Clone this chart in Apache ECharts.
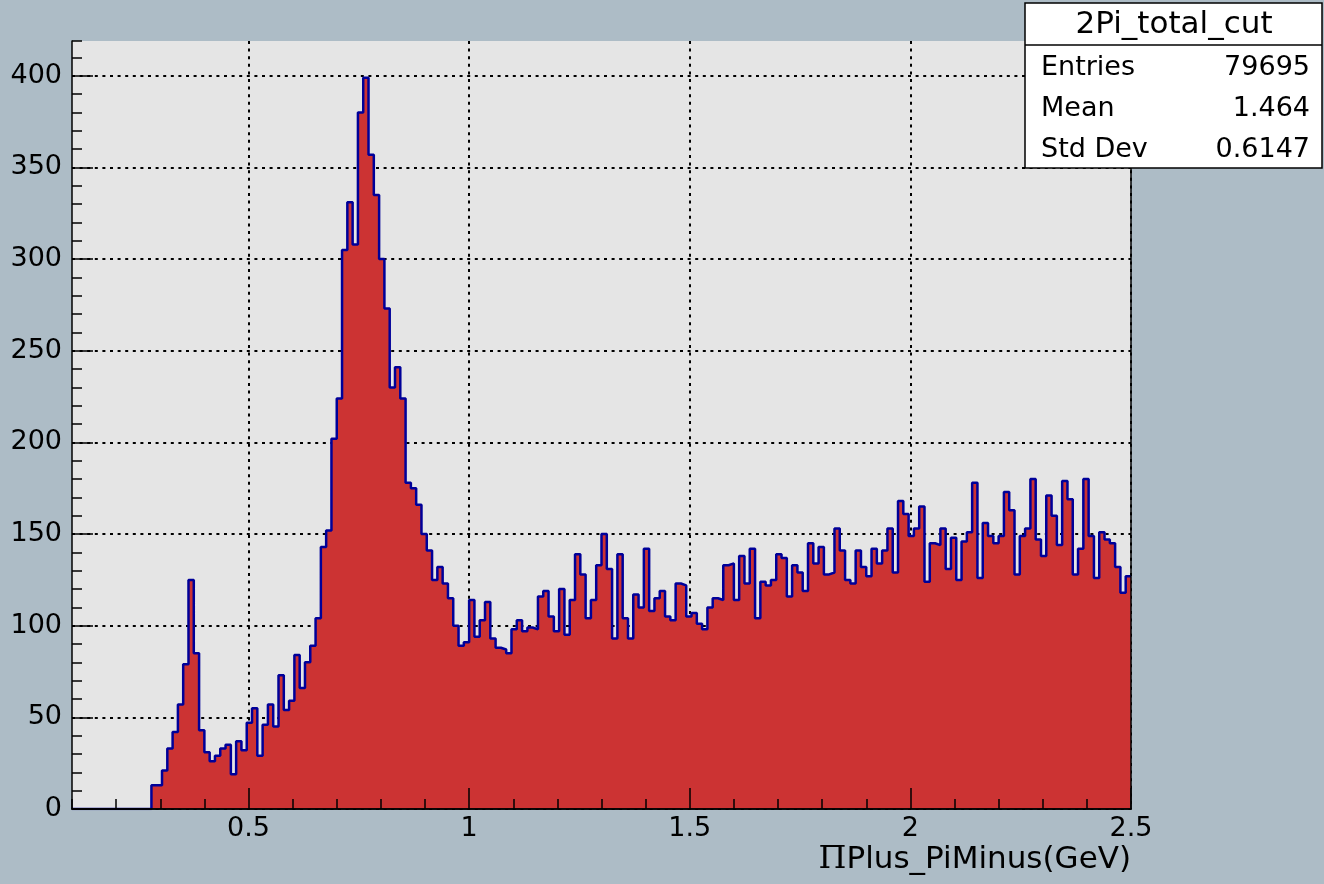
<!DOCTYPE html>
<html>
<head>
<meta charset="utf-8">
<title>2Pi_total_cut</title>
<script src="https://cdn.jsdelivr.net/npm/echarts@6/dist/echarts.min.js"></script>
<style>
  html, body { margin: 0; padding: 0; background: #adbcc6; }
  #chart { width: 1324px; height: 884px; }
</style>
</head>
<body>
<div id="chart"></div>
<script>
// histogram binning (200 bins from 0.1 to 2.5)
const xMin = 0.1
const xMax = 2.5
const binWidth = 0.012
const yMax = 419

// bin contents, left to right
const counts = [
  0, 0, 0, 0, 0, 0, 0, 0, 0, 0, 0, 0, 0, 0, 0,
  13, 13, 21, 33, 42, 57, 79, 125, 85, 43, 31, 26, 29, 33, 35,
  19, 37, 32, 47, 55, 29, 46, 57, 45, 73, 54, 59, 84, 66, 80,
  89, 104, 143, 152, 202, 224,
  305, 331, 308, 380, 399, 357, 335, 300, 273, 230, 241, 224,
  178, 175, 166, 150, 141, 125, 132, 123, 115, 100, 89, 91, 114, 94,
  103, 113, 93, 88, 87, 85, 98, 103, 97, 99, 98, 116, 119, 105, 97, 120, 95, 114, 139, 128, 104,
  114, 133, 150, 131, 93, 139, 104, 93, 117, 110, 142, 108, 115, 119, 105, 103, 123, 122, 105, 107, 101, 98, 110,
  115, 114, 133, 134, 114, 138, 123, 142, 104, 124, 122, 125, 139, 137, 116, 133, 129, 119, 145, 134, 143,
  128, 129, 153, 141, 125, 123, 141, 132, 127, 142, 134, 141, 153, 129, 168, 161, 149, 153, 165, 124,
  145, 144, 153, 131, 148, 125, 146, 151, 178, 126, 156, 149, 145, 149, 173, 163, 128, 149, 153,
  180, 147, 138, 171, 160, 144, 179, 169, 128, 142, 180, 149, 126, 151, 147, 145, 132, 118, 127
]

// tick labels
const xTicks = [0.5, 1, 1.5, 2, 2.5]
const yTicks = [0, 50, 100, 150, 200, 250, 300, 350, 400]

// stats box
const statsTitle = '2Pi_total_cut'
const statsRows = [
  ['Entries', '79695'],
  ['Mean', '1.464'],
  ['Std Dev', '0.6147']
]

const font = 'DejaVu Sans'

// step line: one point at each bin's low edge, plus the upper edge
const stepData = counts.map((c, i) => [xMin + i * binWidth, c])
stepData.push([xMax, counts[counts.length - 1]])

const statsGraphic = [
  {
    type: 'rect',
    shape: { x: 1025, y: 3, width: 297, height: 165 },
    style: { fill: '#ffffff', stroke: '#000000', lineWidth: 1.5 },
    z: 10
  },
  {
    type: 'line',
    shape: { x1: 1025, y1: 45, x2: 1322, y2: 45 },
    style: { stroke: '#000000', lineWidth: 1.5 },
    z: 11
  },
  {
    type: 'text',
    x: 1174, y: 25,
    style: { text: statsTitle, font: '31px "' + font + '"', fill: '#000', align: 'center', verticalAlign: 'middle' },
    z: 11
  }
]
statsRows.forEach((row, i) => {
  const y = 68 + i * 41
  statsGraphic.push({
    type: 'text', x: 1041, y: y,
    style: { text: row[0], font: '27px "' + font + '"', fill: '#000', align: 'left', verticalAlign: 'middle' },
    z: 11
  })
  statsGraphic.push({
    type: 'text', x: 1310, y: y,
    style: { text: row[1], font: '27px "' + font + '"', fill: '#000', align: 'right', verticalAlign: 'middle' },
    z: 11
  })
})

const chart = echarts.init(document.getElementById('chart'))

const hidden = { show: false }
const option = {
  backgroundColor: '#adbcc6',
  animation: false,
  grid: {
    left: 72, right: 193, top: 41, bottom: 75,
    show: true, backgroundColor: '#e5e5e5', borderWidth: 0
  },
  xAxis: [
    // dotted grid lines (under the histogram)
    {
      type: 'value', min: xMin, max: xMax, interval: 0.1, position: 'bottom', z: 0,
      axisLine: hidden, axisLabel: hidden,
      axisTick: { show: false, customValues: xTicks },
      splitLine: { show: true, lineStyle: { color: '#000', width: 2, type: [3, 4.6] } }
    },
    // axis line, major ticks and labels
    {
      type: 'value', min: xMin, max: xMax, interval: 0.1, position: 'bottom', z: 3,
      axisLine: { show: true, onZero: false, lineStyle: { color: '#000', width: 1.5 } },
      axisTick: { show: true, inside: true, length: 21, customValues: xTicks, lineStyle: { color: '#000', width: 1.5 } },
      axisLabel: { show: true, customValues: xTicks, margin: 6, color: '#000', fontFamily: font, fontSize: 27 },
      splitLine: hidden,
      name: '{pi|\u03A0}Plus_PiMinus(GeV)',
      nameLocation: 'end',
      nameGap: 0,
      nameTextStyle: {
        align: 'right', verticalAlign: 'top', padding: [35, 0, 0, 0],
        color: '#000', fontFamily: font, fontSize: 31,
        rich: { pi: { fontFamily: 'DejaVu Serif', fontSize: 32, color: '#000' } }
      }
    },
    // minor ticks
    {
      type: 'value', min: xMin, max: xMax, interval: 0.1, position: 'bottom', z: 3,
      axisLine: hidden, axisLabel: hidden, splitLine: hidden,
      axisTick: { show: true, inside: true, length: 10, lineStyle: { color: '#000', width: 1.5 } }
    },
    // top frame
    {
      type: 'value', min: xMin, max: xMax, position: 'top', z: 3,
      axisLine: { show: true, lineStyle: { color: '#000', width: 1.5 } },
      axisTick: hidden, axisLabel: hidden, splitLine: hidden
    }
  ],
  yAxis: [
    {
      type: 'value', min: 0, max: yMax, interval: 50, position: 'left', z: 0,
      axisLine: hidden, axisLabel: hidden,
      axisTick: { show: false, customValues: yTicks },
      splitLine: { show: true, lineStyle: { color: '#000', width: 2, type: [3, 4.6] } }
    },
    {
      type: 'value', min: 0, max: yMax, interval: 50, position: 'left', z: 3,
      axisLine: { show: true, lineStyle: { color: '#000', width: 1.5 } },
      axisTick: { show: true, inside: true, length: 21, customValues: yTicks, lineStyle: { color: '#000', width: 1.5 } },
      axisLabel: { show: true, customValues: yTicks, margin: 10, color: '#000', fontFamily: font, fontSize: 27 },
      splitLine: hidden
    },
    {
      type: 'value', min: 0, max: yMax, interval: 10, position: 'left', z: 3,
      axisLine: hidden, axisLabel: hidden, splitLine: hidden,
      axisTick: { show: true, inside: true, length: 10, lineStyle: { color: '#000', width: 1.5 } }
    },
    {
      type: 'value', min: 0, max: yMax, position: 'right', z: 3,
      axisLine: { show: true, lineStyle: { color: '#000', width: 1.5 } },
      axisTick: hidden, axisLabel: hidden, splitLine: hidden
    }
  ],
  series: [
    {
      type: 'line',
      xAxisIndex: 0,
      yAxisIndex: 0,
      step: 'end',
      data: stepData,
      symbol: 'none',
      z: 2,
      lineStyle: { color: '#000099', width: 2.5 },
      areaStyle: { color: '#cc3333', opacity: 1 }
    }
  ],
  graphic: statsGraphic
}

chart.setOption(option)
</script>
</body>
</html>
